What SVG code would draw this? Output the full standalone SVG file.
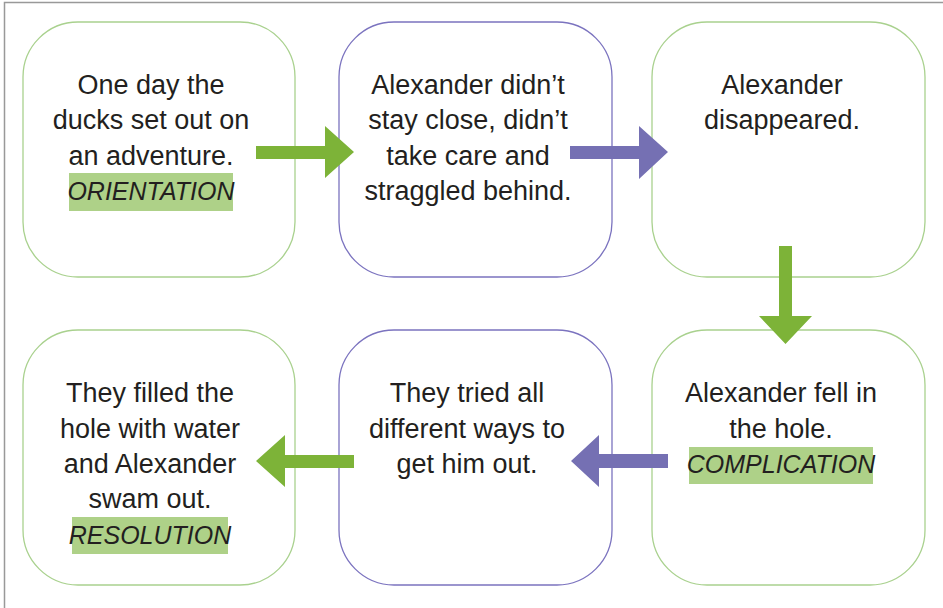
<svg xmlns="http://www.w3.org/2000/svg" width="943" height="608" viewBox="0 0 943 608">
<style>
.box{fill:#fff;stroke-width:1.3}
.g{stroke:#a9d18e}
.p{stroke:#7b73bf}
.t{font-family:"Liberation Sans",Arial,sans-serif;font-size:27px;fill:#231f20;text-anchor:middle}
.i{font-style:italic;font-size:25px}
.hl{fill:#aed188}
.ag{fill:#7db338}
.ap{fill:#7570b3}
</style>
<rect width="943" height="608" fill="#fff"/>
<path d="M4.5 608V2.5H943" fill="none" stroke="#999" stroke-width="1.5"/>
<g id="n1">
<rect class="box g" x="23" y="22" width="272" height="255" rx="55"/>
<text class="t" x="151" y="94">One day the</text>
<text class="t" x="151" y="129">ducks set out on</text>
<text class="t" x="151" y="165">an adventure.</text>
<rect class="hl" x="69" y="173" width="164" height="38"/>
<text class="t i" x="151" y="200">ORIENTATION</text>
</g>
<g id="n2">
<rect class="box p" x="339" y="22" width="273" height="255" rx="55"/>
<text class="t" x="468" y="94">Alexander didn’t</text>
<text class="t" x="468" y="129">stay close, didn’t</text>
<text class="t" x="468" y="165">take care and</text>
<text class="t" x="468" y="200">straggled behind.</text>
</g>
<g id="n3">
<rect class="box g" x="652" y="22" width="273" height="255" rx="55"/>
<text class="t" x="782" y="94">Alexander</text>
<text class="t" x="782" y="129">disappeared.</text>
</g>
<g id="n4">
<rect class="box g" x="652" y="330" width="273" height="255" rx="55"/>
<text class="t" x="781" y="402">Alexander fell in</text>
<text class="t" x="781" y="438">the hole.</text>
<rect class="hl" x="689" y="447" width="184" height="37"/>
<text class="t i" x="781" y="473">COMPLICATION</text>
</g>
<g id="n5">
<rect class="box p" x="339" y="330" width="273" height="255" rx="55"/>
<text class="t" x="467" y="402">They tried all</text>
<text class="t" x="467" y="438">different ways to</text>
<text class="t" x="467" y="473">get him out.</text>
</g>
<g id="n6">
<rect class="box g" x="23" y="330" width="272" height="255" rx="55"/>
<text class="t" x="150" y="402">They filled the</text>
<text class="t" x="150" y="438">hole with water</text>
<text class="t" x="150" y="473">and Alexander</text>
<text class="t" x="150" y="508">swam out.</text>
<rect class="hl" x="72" y="517" width="156" height="37"/>
<text class="t i" x="150" y="544">RESOLUTION</text>
</g>
<g id="connectors">
<path class="ag" d="M256 146H325V126L354 152L325 178V159H256Z"/>
<path class="ap" d="M570 146H639V126L668 152L639 179V159H570Z"/>
<path class="ag" d="M779 246H792V316H812L785.5 344L759 316H779Z"/>
<path class="ap" d="M668 454H599V435L571 461L599 487V468H668Z"/>
<path class="ag" d="M354 455H285V435L256 461L285 487V468H354Z"/>
</g>
</svg>
